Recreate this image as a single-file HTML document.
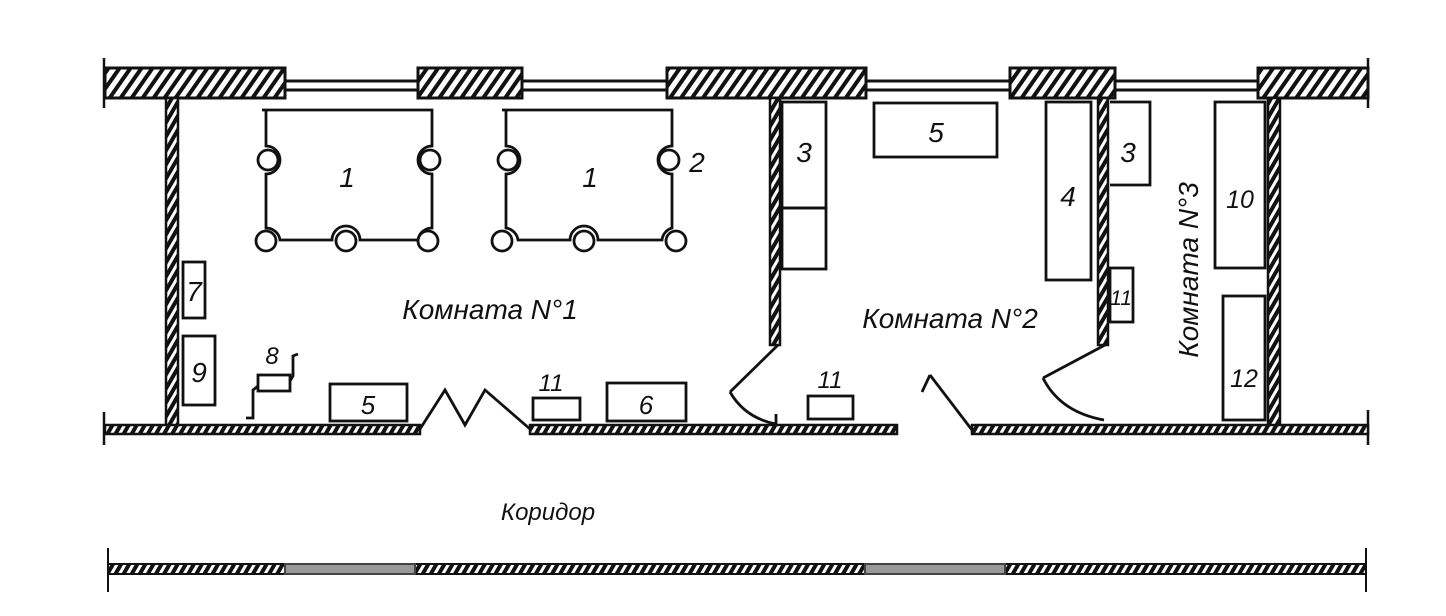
<!DOCTYPE html>
<html><head><meta charset="utf-8"><style>
html,body{margin:0;padding:0;background:#fff;}
svg{display:block}
text{font-family:"Liberation Sans",sans-serif;font-style:italic;fill:#111}
</style></head><body>
<svg width="1446" height="616" viewBox="0 0 1446 616" xmlns="http://www.w3.org/2000/svg">
<defs>
<pattern id="h" width="9" height="9" patternUnits="userSpaceOnUse" patternTransform="rotate(35)">
<rect width="9" height="9" fill="#fff"/><rect width="4" height="9" fill="#111"/></pattern>
<pattern id="hs" width="7" height="7" patternUnits="userSpaceOnUse" patternTransform="rotate(30)">
<rect width="7" height="7" fill="#fff"/><rect width="4" height="7" fill="#111"/></pattern>
</defs>
<g stroke="#111" stroke-width="3" fill="none">
<line x1="285" y1="81" x2="418" y2="81"/><line x1="285" y1="90" x2="418" y2="90"/>
<line x1="522" y1="81" x2="667" y2="81"/><line x1="522" y1="90" x2="667" y2="90"/>
<line x1="866" y1="81" x2="1010" y2="81"/><line x1="866" y1="90" x2="1010" y2="90"/>
<line x1="1115" y1="81" x2="1258" y2="81"/><line x1="1115" y1="90" x2="1258" y2="90"/>
</g>
<g stroke="#111" stroke-width="3" fill="url(#h)">
<rect x="105" y="68" width="180" height="30"/>
<rect x="418" y="68" width="104" height="30"/>
<rect x="667" y="68" width="199" height="30"/>
<rect x="1010" y="68" width="105" height="30"/>
<rect x="1258" y="68" width="110" height="30"/>
</g>
<g stroke="#111" stroke-width="2.5">
<line x1="104" y1="58" x2="104" y2="108"/>
<line x1="1368" y1="58" x2="1368" y2="108"/>
<line x1="104" y1="412" x2="104" y2="445"/>
<line x1="1368" y1="410" x2="1368" y2="445"/>
</g>
<g stroke="#111" stroke-width="2.5" fill="url(#hs)">
<rect x="166" y="98" width="12" height="328"/>
<rect x="770" y="98" width="10" height="247"/>
<rect x="1098" y="98" width="10" height="247"/>
<rect x="1268" y="98" width="12" height="328"/>
<rect x="105" y="425" width="315" height="9"/>
<rect x="530" y="425" width="367" height="9"/>
<rect x="972" y="425" width="396" height="9"/>
</g>
<g stroke="#111" stroke-width="2.8" fill="none">
<polyline points="420,429 445,390 465,425 485,390 530,429"/>
<line x1="778" y1="345" x2="730" y2="392"/>
<path d="M730,392 Q745,418 776,424"/>
<line x1="776" y1="414" x2="776" y2="426"/>
<line x1="972" y1="430" x2="930" y2="375"/>
<line x1="930" y1="375" x2="922" y2="392"/>
<line x1="1105" y1="345" x2="1043" y2="378"/>
<path d="M1043,378 Q1060,412 1104,420"/>
<path d="M262,110 H432 V146 A14,14 0 0 0 432,174 V228 A14,14 0 0 0 418,240 H360 A14,14 0 0 0 332,240 H280 A14,14 0 0 0 266,228 V174 A14,14 0 0 0 266,146 V110"/>
<path d="M502,110 H672 V146 A14,14 0 0 0 672,174 V228 A14,14 0 0 0 662,240 H598 A14,14 0 0 0 570,240 H518 A14,14 0 0 0 506,228 V174 A14,14 0 0 0 506,146 V110"/>
<circle cx="268" cy="160" r="10"/><circle cx="430" cy="160" r="10"/>
<circle cx="266" cy="241" r="10"/><circle cx="346" cy="241" r="10"/><circle cx="428" cy="241" r="10"/>
<circle cx="508" cy="160" r="10"/><circle cx="669" cy="160" r="10"/>
<circle cx="502" cy="241" r="10"/><circle cx="584" cy="241" r="10"/><circle cx="676" cy="241" r="10"/>
<rect x="183" y="262" width="22" height="56"/>
<rect x="183" y="336" width="32" height="69"/>
<rect x="258" y="375" width="32" height="16"/>
<polyline points="258,386 253,390 253,418 246,418"/>
<polyline points="290,381 293,376 293,356 298,354"/>
<rect x="330" y="384" width="77" height="37"/>
<rect x="533" y="398" width="47" height="22"/>
<rect x="607" y="383" width="79" height="38"/>
<rect x="782" y="102" width="44" height="106"/>
<rect x="782" y="208" width="44" height="61"/>
<rect x="874" y="103" width="123" height="54"/>
<rect x="1046" y="102" width="45" height="178"/>
<rect x="808" y="396" width="45" height="23"/>
<polyline points="1110,102 1150,102 1150,185 1110,185"/>
<rect x="1110" y="268" width="23" height="54"/>
<rect x="1215" y="102" width="50" height="166"/>
<rect x="1223" y="296" width="42" height="124"/>
</g>
<g stroke="#111" stroke-width="2">
<line x1="108" y1="548" x2="108" y2="592"/>
<line x1="1366" y1="548" x2="1366" y2="592"/>
<rect x="108" y="564" width="1258" height="10" fill="url(#hs)"/>
<rect x="285" y="564" width="130" height="10" fill="#999" stroke="#444"/>
<rect x="865" y="564" width="140" height="10" fill="#999" stroke="#444"/>
</g>
<g font-size="28">
<text x="347" y="187" text-anchor="middle">1</text>
<text x="590" y="187" text-anchor="middle">1</text>
<text x="697" y="172" text-anchor="middle">2</text>
<text x="194" y="301" text-anchor="middle">7</text>
<text x="199" y="382" text-anchor="middle">9</text>
<text x="272" y="364" text-anchor="middle" font-size="24">8</text>
<text x="368" y="414" text-anchor="middle" font-size="26">5</text>
<text x="551" y="391" text-anchor="middle" font-size="24">11</text>
<text x="646" y="414" text-anchor="middle" font-size="26">6</text>
<text x="804" y="162" text-anchor="middle">3</text>
<text x="936" y="142" text-anchor="middle">5</text>
<text x="1068" y="206" text-anchor="middle">4</text>
<text x="830" y="388" text-anchor="middle" font-size="24">11</text>
<text x="1128" y="162" text-anchor="middle">3</text>
<text x="1121" y="305" text-anchor="middle" font-size="21">11</text>
<text x="1240" y="208" text-anchor="middle" font-size="25">10</text>
<text x="1244" y="387" text-anchor="middle" font-size="25">12</text>
<text x="490" y="319" text-anchor="middle" font-size="28">Комната N°1</text>
<text x="950" y="328" text-anchor="middle" font-size="28">Комната N°2</text>
<text transform="translate(1198,270) rotate(-90)" text-anchor="middle" font-size="28">Комната N°3</text>
<text x="548" y="520" text-anchor="middle" font-size="24">Коридор</text>
</g>
</svg>
</body></html>
